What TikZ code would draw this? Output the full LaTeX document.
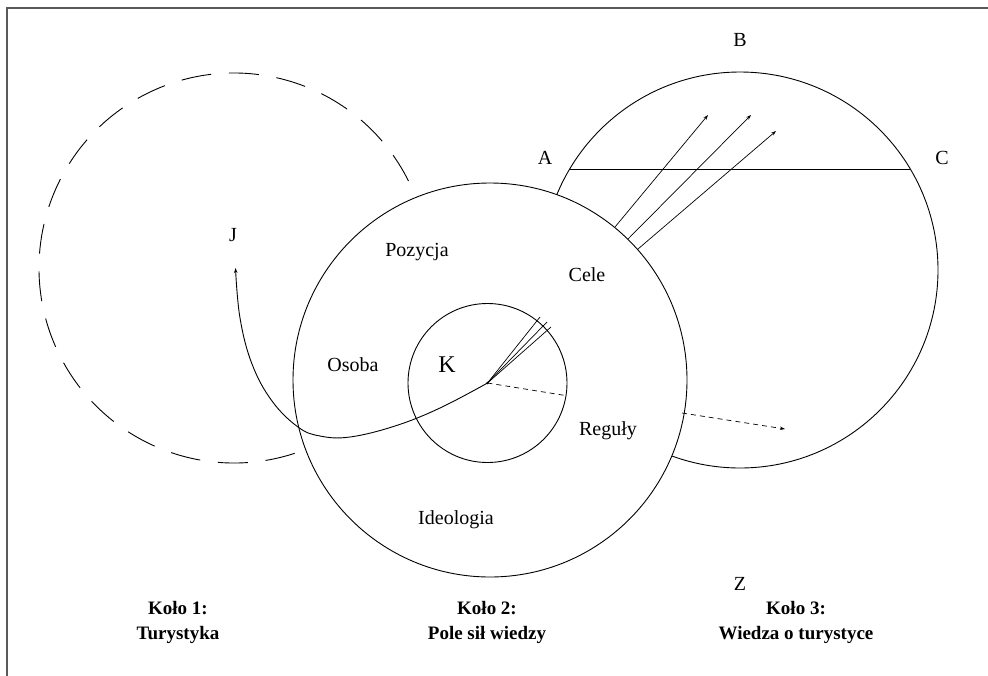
\documentclass[tikz,border=0pt]{standalone}
\usepackage{fontspec}
\setmainfont{Liberation Serif}
\usetikzlibrary{arrows.meta}
\begin{document}
\begin{tikzpicture}[x=1pt,y=-1pt,line width=0.9pt,
  lbl/.style={font=\fontsize{20}{22}\selectfont, inner sep=0pt},
  biglbl/.style={font=\fontsize{24}{26}\selectfont, inner sep=0pt},
  capt/.style={font=\fontsize{19}{25}\selectfont\bfseries, align=center, inner sep=0pt},
  ring/.style={circle, draw, inner sep=0pt, outer sep=0pt},
  tip/.style={-{Stealth[length=5pt,width=3.5pt]}},
  shortdash/.style={dash pattern=on 5pt off 4pt},
  longdash/.style={dash pattern=on 30pt off 17.8pt}]
\useasboundingbox (0,0) rectangle (988,675);
% frame
\draw[line width=2pt, black!65] (7,690) -- (7,8) -- (1000,8);

% circles
\node[ring, minimum size=394pt] (C2) at (490,380) {};
\node[ring, minimum size=159pt] (C0) at (487.5,383) {};
\coordinate (K) at (487.5,383);

% circle 3 (outside circle 2 only)
\begin{scope}
  \begin{scope}[even odd rule]
    \clip (-20,-20) rectangle (1010,700) (490,380) circle[radius=197];
    \node[ring, minimum size=396pt] (C3) at (740,270) {};
  \end{scope}
\end{scope}
\coordinate (chA) at (569.7,169);
\coordinate (chC) at (910.3,169);
\draw (chA) -- (chC);

% dashed circle 1
\coordinate (C1) at (234,268);
\draw[longdash] (C1) ++(-26.5:195) arc[start angle=-26.5, end angle=-288.5, radius=195];

% fan lines from K
\coordinate (f1) at (540,317);
\coordinate (f2) at (547,322);
\coordinate (f3) at (551,327);
\draw[line width=0.7pt] (K) -- (f1);
\draw[line width=0.7pt] (K) -- (f2);
\draw[line width=0.7pt] (K) -- (f3);

% outer arrows
\coordinate (s1) at (615,227);
\coordinate (s2) at (628,239);
\coordinate (s3) at (638,249);
\coordinate (e1) at (708,115);
\coordinate (e2) at (751,115);
\coordinate (e3) at (776,131);
\draw[tip, line width=0.7pt] (s1) -- (e1);
\draw[tip, line width=0.7pt] (s2) -- (e2);
\draw[tip, line width=0.7pt] (s3) -- (e3);

% dashed line from K
\coordinate (d1) at (565.5,395.5);
\coordinate (d2) at (682,413);
\coordinate (d3) at (785,429);
\draw[shortdash, line width=0.7pt] (K) -- (d1);
\draw[shortdash, tip, line width=0.7pt] (d2) -- (d3);

% curve K -> J
\draw[tip] plot[smooth, tension=0.65] coordinates {(487.5,383) (440,408) (395,426) (350,437) (320,436) (298,427) (272,401) (252,364) (240,318) (235.5,268)};
\fill (K) circle[radius=1.3pt];

% labels
\node[lbl] (lB) at (740,40) {B};
\node[lbl] (lA) at (545,158) {A};
\node[lbl] (lC) at (942,158) {C};
\node[lbl] (lJ) at (233,235) {J};
\node[lbl] (lPoz) at (417,252) {Pozycja};
\node[lbl] (lCele) at (587,275) {Cele};
\node[lbl] (lOs) at (353,365) {Osoba};
\node[biglbl] (lK) at (447,365) {K};
\node[lbl] (lReg) at (608,431) {Reguły};
\node[lbl] (lId) at (456,520) {Ideologia};
\node[lbl] (lZ) at (740,584) {Z};

\node[capt] (k1) at (178,622) {Koło 1:\\Turystyka};
\node[capt] (k2) at (487,622) {Koło 2:\\Pole sił wiedzy};
\node[capt] (k3) at (796,622) {Koło 3:\\Wiedza o turystyce};
\end{tikzpicture}
\end{document}
